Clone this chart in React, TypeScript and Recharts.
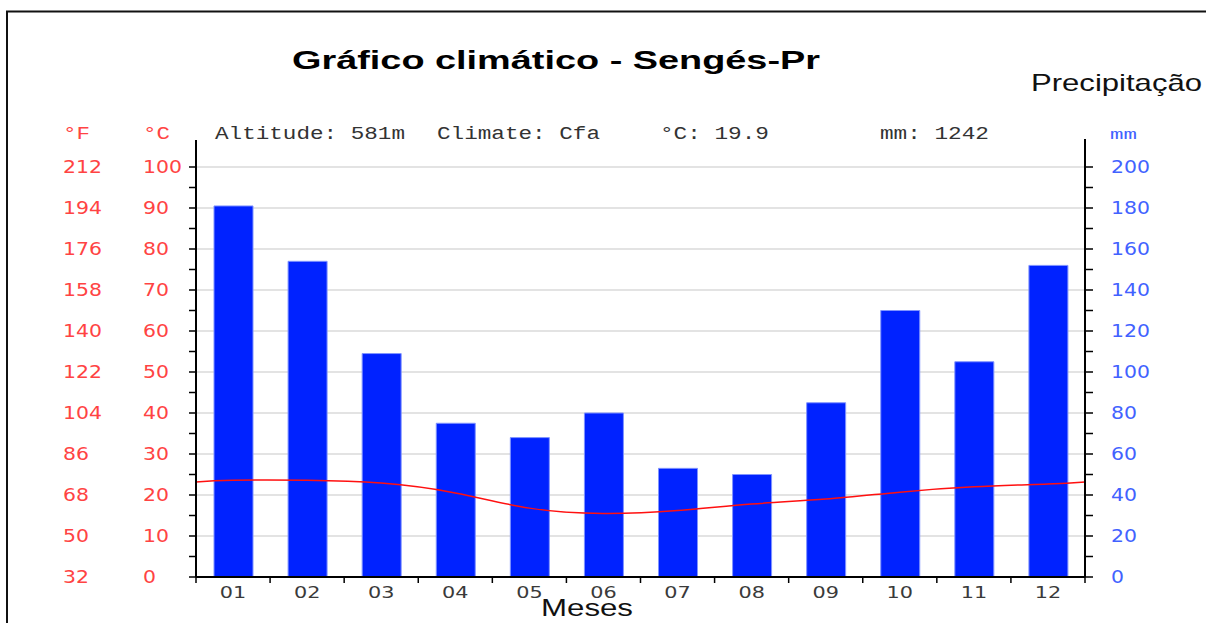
import { Bar, CartesianGrid, ComposedChart, Line, XAxis, YAxis } from "recharts";

const MONTHS = ["01", "02", "03", "04", "05", "06", "07", "08", "09", "10", "11", "12"];
const PRECIP_MM = [181, 154, 109, 75, 68, 80, 53, 50, 85, 130, 105, 152];
const TEMP_C = [23.6, 23.6, 22.9, 20.5, 16.8, 15.5, 16.2, 17.8, 19.0, 20.7, 22.0, 22.7];
// temperature where the curve meets the left / right edge of the plot
const TEMP_EDGE_C = 23.2;

const C_TICKS = [0, 10, 20, 30, 40, 50, 60, 70, 80, 90, 100];
const C_MINOR_TICKS = [0, 5, 10, 15, 20, 25, 30, 35, 40, 45, 50, 55, 60, 65, 70, 75, 80, 85, 90, 95, 100];
const F_LABELS = ["32", "50", "68", "86", "104", "122", "140", "158", "176", "194", "212"];
const MM_TICKS = [0, 20, 40, 60, 80, 100, 120, 140, 160, 180, 200];
const MM_MINOR_TICKS = [0, 10, 20, 30, 40, 50, 60, 70, 80, 90, 100, 110, 120, 130, 140, 150, 160, 170, 180, 190, 200];

const W = 1206;
const H = 623;
const PLOT_LEFT = 196;
const PLOT_RIGHT = 1085;
const PLOT_TOP = 167;
const PLOT_BOTTOM = 577;
const BAND = (PLOT_RIGHT - PLOT_LEFT) / MONTHS.length;

const RED = "#ff4343";
const BLUE = "#4262ff";
const TICK_FONT = "'DejaVu Sans', sans-serif";
const MONO = "'Liberation Mono', monospace";

const barData = MONTHS.map((m, i) => ({ month: m, mm: PRECIP_MM[i] }));
const lineData = [
  { x: 0, t: TEMP_EDGE_C },
  ...TEMP_C.map((t, i) => ({ x: i + 0.5, t })),
  { x: MONTHS.length, t: TEMP_EDGE_C },
];

function TempTick({ y, payload }: any) {
  const i = C_TICKS.indexOf(Number(payload.value));
  if (i < 0) return <g />;
  return (
    <g fill={RED} fontFamily={TICK_FONT} fontSize={17}>
      <text transform={`translate(63 ${y + 6}) scale(1.2 1)`}>{F_LABELS[i]}</text>
      <text transform={`translate(143 ${y + 6}) scale(1.2 1)`}>{C_TICKS[i]}</text>
    </g>
  );
}

function MmTick({ y, payload }: any) {
  if (!MM_TICKS.includes(Number(payload.value))) return <g />;
  return (
    <text
      transform={`translate(1111 ${y + 6}) scale(1.2 1)`}
      fill={BLUE}
      fontFamily={TICK_FONT}
      fontSize={17}
    >
      {payload.value}
    </text>
  );
}

function MonthTick({ x, payload, index }: any) {
  const half = BAND / 2;
  return (
    <g>
      <line x1={x - half} x2={x - half} y1={PLOT_BOTTOM} y2={PLOT_BOTTOM + 6} stroke="#000" strokeWidth={1.5} />
      {index === MONTHS.length - 1 && (
        <line x1={x + half} x2={x + half} y1={PLOT_BOTTOM} y2={PLOT_BOTTOM + 6} stroke="#000" strokeWidth={1.5} />
      )}
      <text
        transform={`translate(${x} 598) scale(1.3 1)`}
        textAnchor="middle"
        fill="#3a3a3a"
        fontFamily={TICK_FONT}
        fontSize={16}
      >
        {payload.value}
      </text>
    </g>
  );
}

export default function App() {
  return (
    <div style={{ position: "absolute", left: 0, top: 0, width: W, height: H, background: "#fff" }}>
      <ComposedChart
        width={W}
        height={H}
        data={barData}
        margin={{ top: PLOT_TOP, right: 0, bottom: H - PLOT_BOTTOM - 30, left: 0 }}
      >
        <CartesianGrid
          vertical={false}
          xAxisId="cat"
          yAxisId="c"
          horizontalValues={C_TICKS}
          stroke="#c8c8c8"
          strokeWidth={1.2}
        />
        <XAxis
          xAxisId="cat"
          dataKey="month"
          height={30}
          tickLine={false}
          axisLine={{ stroke: "#000", strokeWidth: 2 }}
          tick={<MonthTick />}
          interval={0}
        />
        <XAxis xAxisId="num" type="number" dataKey="x" domain={[0, MONTHS.length]} hide />
        <YAxis
          yAxisId="c"
          orientation="left"
          width={PLOT_LEFT}
          domain={[0, 100]}
          ticks={C_MINOR_TICKS}
          interval={0}
          tickSize={7}
          tickLine={{ stroke: "#000", strokeWidth: 1.5 }}
          axisLine={{ stroke: "#000", strokeWidth: 2 }}
          tick={<TempTick />}
        />
        <YAxis
          yAxisId="mm"
          orientation="right"
          width={W - PLOT_RIGHT}
          domain={[0, 200]}
          ticks={MM_MINOR_TICKS}
          interval={0}
          tickSize={8}
          tickLine={{ stroke: "#000", strokeWidth: 1.5 }}
          axisLine={{ stroke: "#000", strokeWidth: 2 }}
          tick={<MmTick />}
        />
        <Bar
          xAxisId="cat"
          yAxisId="mm"
          dataKey="mm"
          barSize={39}
          fill="#0022ff"
          stroke="#8094ff"
          strokeWidth={1}
          isAnimationActive={false}
        />
        <Line
          xAxisId="num"
          yAxisId="c"
          data={lineData}
          dataKey="t"
          type="natural"
          stroke="#ff1010"
          strokeWidth={1.5}
          dot={false}
          activeDot={false}
          isAnimationActive={false}
        />
      </ComposedChart>

      <svg
        width={W}
        height={H}
        style={{ position: "absolute", left: 0, top: 0, pointerEvents: "none" }}
      >
        {/* frame */}
        <line x1={6} x2={W} y1={11.5} y2={11.5} stroke="#111" strokeWidth={2} />
        <line x1={7} x2={7} y1={11} y2={H} stroke="#111" strokeWidth={2} />
        {/* axis lines run a little above the top gridline */}
        <line x1={PLOT_LEFT} x2={PLOT_LEFT} y1={140} y2={PLOT_TOP} stroke="#000" strokeWidth={2} />
        <line x1={PLOT_RIGHT} x2={PLOT_RIGHT} y1={139} y2={PLOT_TOP} stroke="#000" strokeWidth={2} />

        <text
          x={292}
          y={68.5}
          fontFamily="'Liberation Sans', Arial, sans-serif"
          fontWeight="bold"
          fontSize={25}
          textLength={528}
          lengthAdjust="spacingAndGlyphs"
          fill="#000"
        >
          Gráfico climático - Sengés-Pr
        </text>
        <text
          x={1031}
          y={90.5}
          fontFamily="'Liberation Sans', Arial, sans-serif"
          fontSize={24}
          textLength={171}
          lengthAdjust="spacingAndGlyphs"
          fill="#111"
        >
          Precipitação
        </text>

        <g fontFamily={MONO} fontSize={18} fill="#333">
          <text x={215} y={139} textLength={190} lengthAdjust="spacingAndGlyphs">Altitude: 581m</text>
          <text x={437} y={139} textLength={163} lengthAdjust="spacingAndGlyphs">Climate: Cfa</text>
          <text x={660} y={139} textLength={109} lengthAdjust="spacingAndGlyphs">°C: 19.9</text>
          <text x={880} y={139} textLength={109} lengthAdjust="spacingAndGlyphs">mm: 1242</text>
        </g>
        <g fontFamily={MONO} fontSize={18} fill={RED}>
          <text x={63} y={139} textLength={27} lengthAdjust="spacingAndGlyphs">°F</text>
          <text x={143} y={139} textLength={27} lengthAdjust="spacingAndGlyphs">°C</text>
        </g>
        <text
          x={1110}
          y={138.5}
          fontFamily={MONO}
          fontSize={15}
          fill={BLUE}
          textLength={27}
          lengthAdjust="spacingAndGlyphs"
        >
          mm
        </text>

        <text
          x={587}
          y={616}
          textAnchor="middle"
          fontFamily="'Liberation Sans', Arial, sans-serif"
          fontSize={23}
          textLength={92}
          lengthAdjust="spacingAndGlyphs"
          fill="#111"
        >
          Meses
        </text>
      </svg>
    </div>
  );
}
